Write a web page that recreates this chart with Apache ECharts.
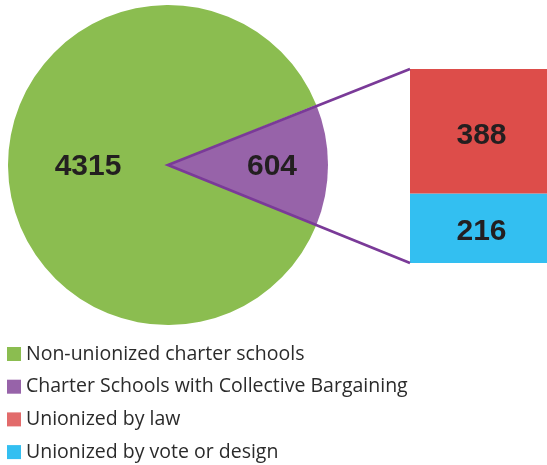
<!DOCTYPE html>
<html>
<head>
<meta charset="utf-8">
<script src="https://cdn.jsdelivr.net/npm/echarts@6/dist/echarts.min.js"></script>
<style>
    html, body { margin: 0; padding: 0; background: #fff; }
    #chart { width: 547px; height: 465px; }
</style>
</head>
<body>
<div id="chart"></div>
<script>
    // pie: all charter schools
    var pieNames = ['Charter Schools with Collective Bargaining', 'Non-unionized charter schools'];
    var pieValues = [604, 4315];
    // stacked bar: breakdown of the 604
    var barNames = ['Unionized by vote or design', 'Unionized by law'];
    var barValues = [216, 388];
    var legendNames = ['Non-unionized charter schools', 'Charter Schools with Collective Bargaining', 'Unionized by law', 'Unionized by vote or design'];

    var colors = {
        'Non-unionized charter schools': '#8bbd50',
        'Charter Schools with Collective Bargaining': '#9763a9',
        'Unionized by law': '#dd4d4a',
        'Unionized by vote or design': '#33bff1'
    };
    var lineColor = '#7a3a98';

    var total = pieValues[0] + pieValues[1];
    var subTotal = barValues[0] + barValues[1];
    // purple slice centred on the right side
    var startAngle = pieValues[0] / total * 360 / 2;

    var myChart = echarts.init(document.getElementById('chart'));

    var numLabel = {
        show: true,
        color: '#231f20',
        fontFamily: 'Liberation Sans, Arial, sans-serif',
        fontWeight: 'bold',
        fontSize: 30
    };

    var option = {
        animation: false,
        backgroundColor: '#fff',
        legend: {
            orient: 'vertical',
            left: 7,
            top: 344,
            height: 140,
            padding: 0,
            icon: 'rect',
            itemWidth: 14,
            itemHeight: 14,
            itemGap: 12.7,
            selectedMode: false,
            data: legendNames.map(function (n) {
                var d = { name: n };
                if (n === 'Unionized by law') {
                    d.itemStyle = { color: '#e26b6b' };
                }
                return d;
            }),
            textStyle: {
                color: '#2b2b2b',
                fontFamily: 'Open Sans, sans-serif',
                fontSize: 19.5
            }
        },
        grid: {
            left: 410,
            right: 0,
            top: 69,
            bottom: 202
        },
        xAxis: {
            type: 'category',
            data: ['604'],
            show: false
        },
        yAxis: {
            type: 'value',
            min: 0,
            max: subTotal,
            show: false
        },
        series: [
            {
                type: 'pie',
                center: [168, 165],
                radius: 160,
                startAngle: startAngle,
                clockwise: true,
                label: Object.assign({ position: 'inner', formatter: '{c}' }, numLabel),
                labelLine: { show: false },
                emphasis: { disabled: true },
                data: pieNames.map(function (n, i) {
                    var item = {
                        name: n,
                        value: pieValues[i],
                        itemStyle: { color: colors[n] }
                    };
                    item.label = i === 0 ? { offset: [21, 2] } : { offset: [3, 2] };
                    return item;
                })
            },
            {
                name: barNames[0],
                type: 'bar',
                stack: 'u',
                barWidth: '100%',
                itemStyle: { color: colors[barNames[0]] },
                label: Object.assign({ position: 'inside', offset: [3, 3] }, numLabel),
                emphasis: { disabled: true },
                data: [barValues[0]]
            },
            {
                name: barNames[1],
                type: 'bar',
                stack: 'u',
                barWidth: '100%',
                itemStyle: { color: colors[barNames[1]] },
                label: Object.assign({ position: 'inside', offset: [3, 4] }, numLabel),
                emphasis: { disabled: true },
                data: [barValues[1]]
            }
        ]
    };

    myChart.setOption(option);

    // connector lines from pie centre to the bar's corners
    var pTop = myChart.convertToPixel({ gridIndex: 0 }, [0, subTotal]);
    var pBot = myChart.convertToPixel({ gridIndex: 0 }, [0, 0]);
    var barLeft = 410;
    var cx = 168, cy = 165;
    myChart.setOption({
        graphic: [
            {
                type: 'polyline',
                z: 10,
                shape: { points: [[barLeft, pTop[1]], [cx, cy], [barLeft, pBot[1]]] },
                style: { stroke: lineColor, lineWidth: 2.7, fill: null }
            }
        ]
    });
</script>
</body>
</html>
